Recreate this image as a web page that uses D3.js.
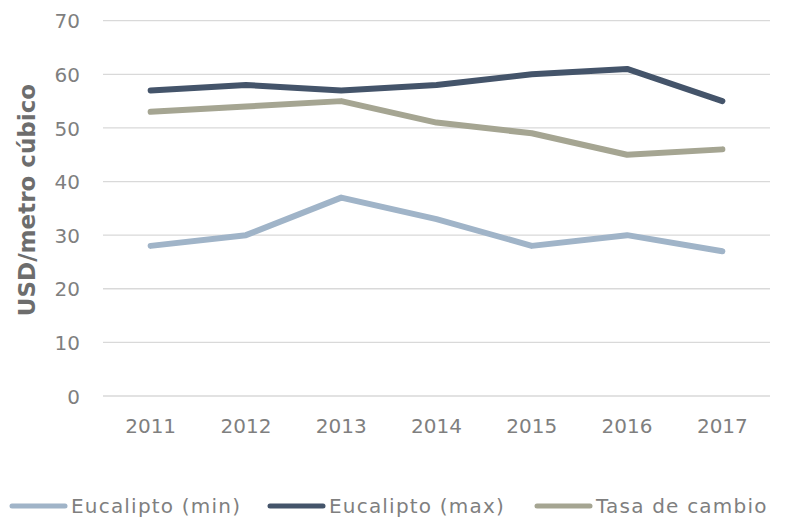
<!DOCTYPE html>
<html>
<head>
<meta charset="utf-8">
<script src="https://cdn.jsdelivr.net/npm/d3@7"></script>
<style>
  html, body { margin: 0; padding: 0; background: #fff; }
  svg text { font-family: "DejaVu Sans", sans-serif; }
</style>
</head>
<body>
<svg id="chart" width="788" height="517"></svg>
<script>
// datos
const years = ["2011", "2012", "2013", "2014", "2015", "2016", "2017"];
const eucMin = [28, 30, 37, 33, 28, 30, 27];
const eucMax = [57, 58, 57, 58, 60, 61, 55];
const tasaCambio = [53, 54, 55, 51, 49, 45, 46];
const yTicks = [0, 10, 20, 30, 40, 50, 60, 70];

const series = [
  { name: "Eucalipto (min)", values: eucMin, color: "#a0b4c8" },
  { name: "Eucalipto (max)", values: eucMax, color: "#44546a" },
  { name: "Tasa de cambio", values: tasaCambio, color: "#a5a592" }
];

const svg = d3.select("#chart");
const plotLeft = 103, plotRight = 770, plotTop = 20.7, plotBottom = 396;

const x = d3.scaleBand().domain(years).range([plotLeft, plotRight]);
const y = d3.scaleLinear().domain([0, 70]).range([plotBottom, plotTop]);

// lineas de cuadricula
svg.append("g")
  .selectAll("line")
  .data(yTicks)
  .join("line")
    .attr("x1", plotLeft)
    .attr("x2", plotRight)
    .attr("y1", d => y(d))
    .attr("y2", d => y(d))
    .attr("stroke", "#d9d9d9")
    .attr("stroke-width", 1.3);

// eje y
const yAxis = svg.append("g")
  .attr("transform", `translate(${plotLeft},0)`)
  .call(d3.axisLeft(y).tickValues(yTicks).tickSize(0).tickPadding(23));
yAxis.select(".domain").remove();
yAxis.selectAll("text")
  .attr("font-size", 20)
  .attr("fill", "#7f7f7f")
  .attr("dy", "0.36em");

// eje x
const xAxis = svg.append("g")
  .attr("transform", `translate(0,${plotBottom})`)
  .call(d3.axisBottom(x).tickSize(0).tickPadding(23));
xAxis.select(".domain").remove();
xAxis.selectAll("text")
  .attr("font-size", 20)
  .attr("fill", "#7f7f7f");

// titulo eje y
svg.append("text")
  .attr("transform", "translate(35,200) rotate(-90)")
  .attr("text-anchor", "middle")
  .attr("font-size", 23)
  .attr("font-weight", "bold")
  .attr("fill", "#6d6d6d")
  .text("USD/metro cúbico");

const line = d3.line()
  .x((d, i) => x(years[i]) + x.bandwidth() / 2)
  .y(d => y(d));

svg.append("g")
  .selectAll("path")
  .data(series)
  .join("path")
    .attr("d", d => line(d.values))
    .attr("fill", "none")
    .attr("stroke", d => d.color)
    .attr("stroke-width", 6)
    .attr("stroke-linejoin", "round")
    .attr("stroke-linecap", "round");

// leyenda
const legendX = [12, 270, 537];
const legend = svg.append("g")
  .selectAll("g")
  .data(series)
  .join("g")
    .attr("transform", (d, i) => `translate(${legendX[i]},506)`);
legend.append("line")
  .attr("x1", 0).attr("x2", 53)
  .attr("stroke", d => d.color)
  .attr("stroke-width", 5)
  .attr("stroke-linecap", "round");
legend.append("text")
  .attr("x", 59)
  .attr("dy", "0.36em")
  .attr("font-size", 20)
  .attr("letter-spacing", 1.2)
  .attr("fill", "#7f7f7f")
  .text(d => d.name);
</script>
</body>
</html>
